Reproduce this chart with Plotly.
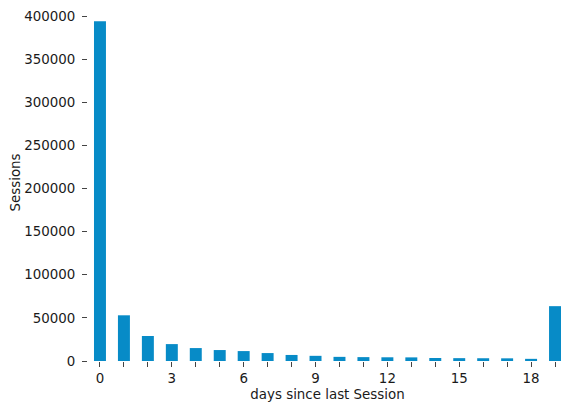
import plotly.graph_objects as go

days = list(range(20))
sessions = [394000, 53000, 29000, 19600, 15000, 12700, 11500, 9200, 7000, 6000,
            4800, 4500, 4300, 4200, 3500, 3300, 3200, 3100, 2500, 63600]
x_tick_vals = list(range(20))
x_tick_text = [str(d) if d % 3 == 0 else "" for d in x_tick_vals]
y_tick_vals = [0, 50000, 100000, 150000, 200000, 250000, 300000, 350000, 400000]

font = dict(family="DejaVu Sans", size=13.4, color="#1a1a1a")

fig = go.Figure(go.Bar(x=days, y=sessions, width=0.5, marker=dict(color="#078bc7", line=dict(width=0))))
fig.update_layout(
    width=569, height=409,
    margin=dict(l=88, r=2, t=4, b=48, autoexpand=False),
    paper_bgcolor="white", plot_bgcolor="white",
    font=font, showlegend=False,
)
fig.update_xaxes(
    range=[-0.5, 19.5], tickvals=x_tick_vals, ticktext=x_tick_text,
    ticks="outside", ticklen=5, tickcolor="#444444", tickwidth=1,
    showgrid=False, zeroline=False, showline=False, automargin=False,
    title=dict(text="days since last Session", font=font, standoff=4),
)
fig.update_yaxes(
    range=[0, 414000], tickvals=y_tick_vals, tickformat="d",
    ticks="outside", ticklen=5, tickcolor="#444444", tickwidth=1,
    ticklabelstandoff=4,
    showgrid=False, zeroline=False, showline=False, automargin=False,
    title=dict(text="Sessions", font=font, standoff=0),
)
fig.write_html("out.html", config={"displayModeBar": False},
               post_script="document.body.style.margin='0';document.body.style.padding='0';")
